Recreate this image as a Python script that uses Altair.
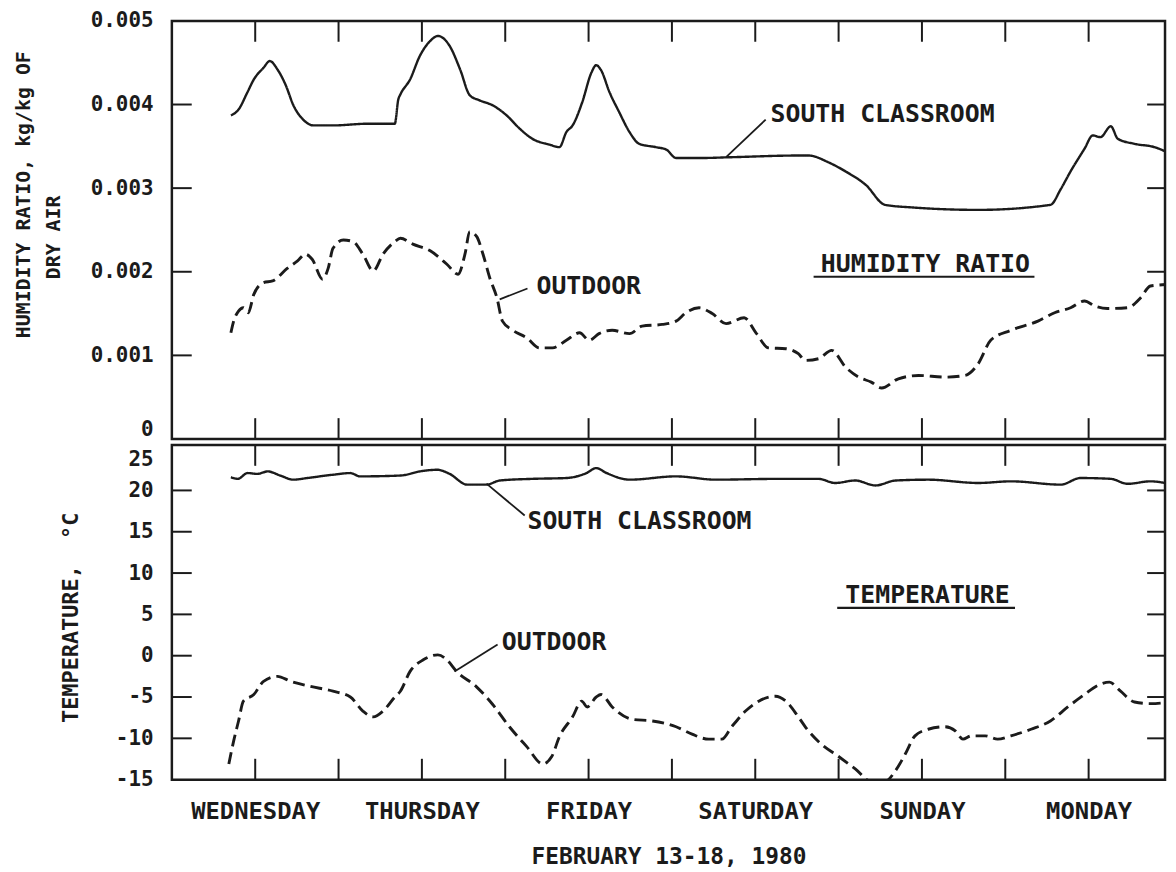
import altair as alt
import pandas as pd

# ------------------------------------------------------------------ data
# hours since Wednesday 00:00 (Feb 13, 1980)
SC_HUM_H = [8.5, 9.6, 10.9, 11.8, 13.2, 14.1, 15.2, 16.4, 17.5, 18.9, 20.4, 23.2, 28.1, 32.1,
            32.6, 32.9, 34.3, 35.7, 37.2, 38.3, 40.0, 41.5, 42.9, 44.3, 46.2, 48.2, 50.1, 51.9,
            54.4, 55.8, 56.8, 57.7, 59.1, 60.4, 61.1, 61.8, 63.0, 64.4, 65.9, 67.3, 69.7, 71.2,
            72.6, 75.9, 80.6, 90.2, 91.7, 94.5, 97.0, 99.9, 102.7, 106.5, 116.1, 126.5, 128.0,
            129.4, 131.4, 132.6, 133.7, 135.2, 136.2, 138.6, 141.5, 144.0]
SC_HUM_V = [3.87, 3.94, 4.15, 4.30, 4.44, 4.52, 4.42, 4.23, 3.99, 3.82, 3.75, 3.75, 3.77, 3.77,
            4.06, 4.12, 4.30, 4.58, 4.76, 4.82, 4.70, 4.42, 4.11, 4.05, 3.99, 3.87, 3.71, 3.59,
            3.52, 3.49, 3.67, 3.75, 4.03, 4.38, 4.47, 4.41, 4.15, 3.91, 3.67, 3.53, 3.49, 3.46,
            3.36, 3.36, 3.37, 3.39, 3.39, 3.31, 3.20, 3.04, 2.80, 2.77, 2.74, 2.80, 2.99,
            3.20, 3.47, 3.63, 3.61, 3.74, 3.59, 3.53, 3.49, 3.40]

OUT_HUM_H = [8.5, 8.9, 9.6, 10.3, 11.0, 11.8, 13.2, 14.5, 16.6, 18.1, 19.2, 20.2, 21.7, 22.5,
             23.2, 24.7, 26.1, 27.5, 29.0, 30.4, 32.1, 32.9, 34.7, 37.2, 39.6, 41.2, 42.2, 42.9,
             43.9, 44.8, 45.8, 46.8, 47.6, 49.1, 51.1, 52.9, 54.8, 56.8, 58.7, 60.1, 61.5, 63.4,
             65.9, 67.7, 70.6, 72.6, 74.0, 75.9, 77.8, 79.8, 82.4, 84.1, 85.9, 88.4, 90.2, 91.2,
             93.1, 95.0, 97.0, 98.9, 100.7, 102.2, 104.6, 107.5, 111.3, 114.2, 116.1, 117.9,
             120.8, 124.7, 127.1, 129.4, 131.4, 132.9, 134.7, 137.6, 139.5, 140.9, 144.0]
OUT_HUM_V = [1.27, 1.41, 1.53, 1.57, 1.51, 1.73, 1.87, 1.89, 2.04, 2.13, 2.21, 2.15, 1.91, 2.04,
             2.28, 2.38, 2.36, 2.21, 2.01, 2.21, 2.36, 2.40, 2.33, 2.25, 2.09, 1.97, 2.21, 2.48,
             2.42, 2.21, 1.92, 1.69, 1.41, 1.30, 1.21, 1.09, 1.09, 1.18, 1.27, 1.18, 1.26, 1.30,
             1.26, 1.35, 1.37, 1.41, 1.51, 1.57, 1.50, 1.38, 1.45, 1.27, 1.09, 1.08, 1.02, 0.94,
             0.96, 1.06, 0.86, 0.74, 0.68, 0.61, 0.72, 0.76, 0.74, 0.76, 0.90, 1.18,
             1.30, 1.41, 1.51, 1.57, 1.65, 1.59, 1.56, 1.57, 1.69, 1.83, 1.85]

SC_TEMP_H = [8.5, 9.5, 10.9, 12.3, 13.8, 15.6, 17.5, 19.5, 23.2, 25.7, 27.1, 32.9, 35.7, 38.2,
             40.0, 42.5, 45.3, 47.2, 51.9, 56.8, 59.7, 61.1, 62.6, 65.9, 72.6, 78.3, 87.4, 93.1,
             95.5, 98.4, 101.3, 104.2, 108.9, 116.1, 120.8, 128.0, 130.8, 135.2, 137.6, 140.9, 143.0]
SC_TEMP_V = [21.6, 21.4, 22.1, 22.0, 22.3, 21.8, 21.3, 21.5, 21.9, 22.1, 21.7, 21.8, 22.3, 22.5,
             22.0, 20.7, 20.7, 21.2, 21.4, 21.5, 22.1, 22.7, 22.1, 21.3, 21.7, 21.3, 21.4, 21.4,
             20.9, 21.2, 20.6, 21.2, 21.3, 20.9, 21.1, 20.7, 21.5, 21.4, 20.8, 21.1, 20.9]

OUT_TEMP_H = [8.2, 8.9, 9.6, 10.3, 11.8, 13.2, 15.2, 17.1, 19.9, 23.2, 25.7, 27.5, 29.0, 30.4,
              32.1, 32.9, 34.3, 36.2, 38.3, 39.6, 41.0, 43.9, 46.2, 48.6, 51.1, 53.4, 54.7, 55.8,
              57.7, 59.0, 59.8, 61.1, 61.8, 63.4, 66.3, 69.2, 72.6, 74.9, 77.3, 79.2, 80.6, 82.6,
              84.5, 86.9, 88.4, 90.2, 91.2, 93.5, 96.0, 98.4, 100.7, 102.7, 104.2, 105.6, 107.0,
              108.9, 111.3, 112.8, 113.9, 115.1, 117.1, 118.9, 120.8, 123.7, 126.5, 129.0, 131.4,
              133.3, 135.0, 136.6, 138.6, 140.9, 143.8]
OUT_TEMP_V = [-13.1, -10.3, -7.9, -5.5, -4.7, -3.1, -2.5, -3.1, -3.7, -4.3, -5.0, -6.7, -7.4, -6.7,
              -5.0, -4.3, -1.9, -0.5, 0.1, -0.5, -1.9, -3.8, -5.9, -8.6, -11.0, -13.1, -12.2, -9.8,
              -7.4, -5.5, -6.2, -5.0, -4.7, -6.2, -7.7, -7.9, -8.6, -9.5, -10.1, -10.1, -8.6, -6.7,
              -5.5, -4.9, -5.5, -7.4, -8.6, -10.7, -12.2, -13.7, -15.2, -15.2, -13.9, -11.9, -9.7,
              -8.9, -8.6, -9.1, -10.1, -9.7, -9.7, -10.1, -9.7, -8.9, -7.9, -6.2, -4.7,
              -3.6, -3.2, -4.3, -5.6, -5.8, -5.6]

SERIES = ["SOUTH CLASSROOM", "OUTDOOR"]
DAY_NAMES = ["WEDNESDAY", "THURSDAY", "FRIDAY", "SATURDAY", "SUNDAY", "MONDAY"]
DAY_LABEL_HOURS = [12, 36, 60, 84, 108, 132]
GRID_HOURS = [12, 24, 36, 48, 60, 72, 84, 96, 108, 120, 132]
HUM_LABEL_VALUES = [0, 0.001, 0.002, 0.003, 0.004, 0.005]
HUM_TICK_VALUES = [0.001, 0.002, 0.003, 0.004]
TEMP_LABEL_VALUES = [-15, -10, -5, 0, 5, 10, 15, 20, 25]
TEMP_TICK_VALUES = [-10, -5, 0, 5, 10, 15, 20]
X_TITLE = "FEBRUARY 13-18, 1980"
HUM_TITLE = ["HUMIDITY RATIO, kg/kg OF", "DRY AIR"]
TEMP_TITLE = "TEMPERATURE,\u00a0 °C"

# annotation anchors (data units)
HUM_LABELS = pd.DataFrame({"h": [86.2, 52.5], "v": [0.00388, 0.00183],
                           "t": ["SOUTH CLASSROOM", "OUTDOOR"]})
HUM_LEADERS = pd.DataFrame({"h1": [85.5, 51.2], "v1": [0.00382, 0.00180],
                            "h2": [79.8, 47.2], "v2": [0.00337, 0.00167]})
HUM_HEAD = pd.DataFrame({"h": [108.5], "v": [0.00209], "t": ["HUMIDITY RATIO"],
                         "h1": [92.4], "h2": [124.2], "vu": [0.00194]})
TEMP_LABELS = pd.DataFrame({"h": [51.2, 47.5], "v": [16.25, 1.7],
                            "t": ["SOUTH CLASSROOM", "OUTDOOR"]})
TEMP_LEADERS = pd.DataFrame({"h1": [50.8, 46.9], "v1": [16.97, 1.35],
                             "h2": [45.3, 40.7], "v2": [20.82, -1.9]})
TEMP_HEAD = pd.DataFrame({"h": [108.8], "v": [7.36], "t": ["TEMPERATURE"],
                          "h1": [95.8], "h2": [121.4], "vu": [5.79]})

# ------------------------------------------------------------------ tables
def long(h1, v1, h2, v2, scale=1.0):
    a = pd.DataFrame({"h": h1, "v": [x * scale for x in v1], "series": SERIES[0]})
    b = pd.DataFrame({"h": h2, "v": [x * scale for x in v2], "series": SERIES[1]})
    return pd.concat([a, b], ignore_index=True)

hum_df = long(SC_HUM_H, SC_HUM_V, OUT_HUM_H, OUT_HUM_V, scale=0.001)
temp_df = long(SC_TEMP_H, SC_TEMP_V, OUT_TEMP_H, OUT_TEMP_V)

# ------------------------------------------------------------------ style
FONT = "DejaVu Sans Mono"
INK = "#1b1b1b"
W = 1000
H_TOP = 421
H_BOT = 337

xscale = alt.Scale(domain=[0, 143], nice=False, zero=False)
hscale = alt.Scale(domain=[0, 0.005], nice=False, zero=False)
tscale = alt.Scale(domain=[-15, 25.5], nice=False, zero=False)

day_expr = "[" + ",".join("'%s'" % d for d in DAY_NAMES) + "][floor(datum.value / 24)]"

x_axis_bottom = alt.Axis(values=DAY_LABEL_HOURS, labelExpr=day_expr, ticks=False, domain=False,
                         grid=False, labelPadding=20, labelFont=FONT, labelFontSize=24,
                         labelFontWeight="bold", labelColor=INK, labelFlush=False,
                         labelOverlap=False, title=X_TITLE, titleFont=FONT, titleFontSize=23,
                         titleFontWeight="bold", titleColor=INK, titlePadding=22)

hum_axis = alt.Axis(values=HUM_LABEL_VALUES,
                    labelExpr="datum.value == 0 ? '0' : format(datum.value, '.3f')",
                    ticks=False, domain=False, grid=False, labelPadding=19, labelFont=FONT,
                    labelFontSize=21, labelFontWeight="bold", labelColor=INK, labelFlush=False,
                    labelOverlap=False, title=None,
                    labelBaseline={"condition": {"test": "datum.value == 0", "value": "bottom"},
                                   "value": "middle"})

temp_axis = alt.Axis(values=TEMP_LABEL_VALUES,
                     labelExpr="(datum.value < 0 ? '-' : '') + abs(datum.value)",
                     ticks=False, domain=False, grid=False, labelPadding=19, labelFont=FONT,
                     labelFontSize=21, labelFontWeight="bold", labelColor=INK, labelFlush=False,
                     labelOverlap=False, title=None,
                     labelBaseline={"condition": {"test": "datum.value == 25", "value": "top"},
                                    "value": "middle"})

dash_scale = alt.Scale(domain=SERIES, range=[[1, 0], [12, 6]])
width_scale = alt.Scale(domain=SERIES, range=[2.4, 2.9])


def panel(df, yscale, yaxis, xaxis, height, tick_values, labels, leaders, head, title_layers):
    X = lambda f: alt.X(f, type="quantitative", scale=xscale, axis=xaxis)
    Y = lambda f: alt.Y(f, type="quantitative", scale=yscale, axis=yaxis)

    lines = alt.Chart(df).mark_line(interpolate="monotone", color=INK, clip=True).encode(
        x=X("h"), y=Y("v"),
        strokeDash=alt.StrokeDash("series:N", scale=dash_scale, legend=None),
        strokeWidth=alt.StrokeWidth("series:N", scale=width_scale, legend=None),
        detail="series:N",
    )
    xt = pd.DataFrame({"h": GRID_HOURS})
    top_ticks = alt.Chart(xt).mark_rule(color=INK, strokeWidth=2).encode(
        x=X("h"), y=alt.value(0), y2=alt.value(21))
    bot_ticks = alt.Chart(xt).mark_rule(color=INK, strokeWidth=2).encode(
        x=X("h"), y=alt.value(height), y2=alt.value(height - 21))
    yt = pd.DataFrame({"v": tick_values})
    left_ticks = alt.Chart(yt).mark_rule(color=INK, strokeWidth=2).encode(
        y=Y("v"), x=alt.value(0), x2=alt.value(20))
    right_ticks = alt.Chart(yt).mark_rule(color=INK, strokeWidth=2).encode(
        y=Y("v"), x=alt.value(W), x2=alt.value(W - 18))

    txt = alt.Chart(labels).mark_text(align="left", baseline="middle", font=FONT, fontSize=25,
                                      fontWeight="bold", color=INK).encode(
        x=X("h"), y=Y("v"), text="t:N")
    lead = alt.Chart(leaders).mark_rule(color=INK, strokeWidth=1.8).encode(
        x=X("h1"), y=Y("v1"), x2="h2:Q", y2="v2:Q")
    head_txt = alt.Chart(head).mark_text(align="center", baseline="middle", font=FONT,
                                         fontSize=25, fontWeight="bold", color=INK).encode(
        x=X("h"), y=Y("v"), text="t:N")
    head_line = alt.Chart(head).mark_rule(color=INK, strokeWidth=2.2).encode(
        x=X("h1"), x2="h2:Q", y=Y("vu"))

    return alt.layer(lines, top_ticks, bot_ticks, left_ticks, right_ticks, txt, lead,
                     head_txt, head_line, *title_layers).properties(width=W, height=height)


def rot_title(text, px, py, size):
    return alt.Chart(pd.DataFrame({"t": [text]})).mark_text(
        angle=270, align="center", baseline="middle", font=FONT, fontSize=size,
        fontWeight="bold", color=INK).encode(text="t:N", x=alt.value(px), y=alt.value(py))


top = panel(hum_df, hscale, hum_axis, None, H_TOP, HUM_TICK_VALUES, HUM_LABELS, HUM_LEADERS,
            HUM_HEAD, [rot_title(HUM_TITLE[0], -149, 175, 20), rot_title(HUM_TITLE[1], -119, 218, 20)])
bottom = panel(temp_df, tscale, temp_axis, x_axis_bottom, H_BOT, TEMP_TICK_VALUES, TEMP_LABELS,
               TEMP_LEADERS, TEMP_HEAD, [rot_title(TEMP_TITLE, -102, 174, 22)])

chart = alt.vconcat(top, bottom, spacing=0).properties(
    padding={"left": 4, "top": -3, "right": 0, "bottom": 0},
    background="white",
).configure_view(stroke=INK, strokeWidth=2.5)

chart.save("out.html", embed_options={"renderer": "svg", "actions": False})
